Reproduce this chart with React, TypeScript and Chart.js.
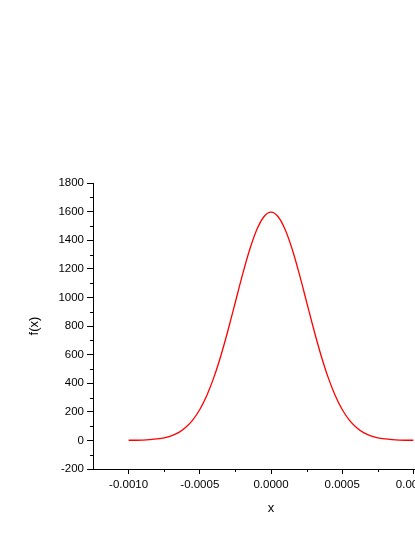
import React, { useEffect, useRef } from "react";
import { Chart, registerables } from "chart.js";

Chart.register(...registerables);

const xValues = [
  -0.001, -0.00095, -0.0009, -0.00085, -0.0008, -0.00075, -0.0007, -0.00065, -0.0006, -0.00055,
  -0.0005, -0.00045, -0.0004, -0.00035, -0.0003, -0.00025, -0.0002, -0.00015, -0.0001, -0.00005,
  0,
  0.00005, 0.0001, 0.00015, 0.0002, 0.00025, 0.0003, 0.00035, 0.0004, 0.00045, 0.0005,
  0.00055, 0.0006, 0.00065, 0.0007, 0.00075, 0.0008, 0.00085, 0.0009, 0.00095, 0.001,
];
const fValues = [
  1, 1, 2, 5, 10, 18, 32, 54, 90, 142,
  216, 316, 444, 599, 777, 968, 1159, 1333, 1473, 1564,
  1596,
  1564, 1473, 1333, 1159, 968, 777, 599, 444, 316, 216,
  142, 90, 54, 32, 18, 10, 5, 2, 1, 1,
];

const xMajorTicks = [-0.001, -0.0005, 0, 0.0005, 0.001];
const xMinorTicks = [-0.00075, -0.00025, 0.00025, 0.00075];
const yMajorTicks = [-200, 0, 200, 400, 600, 800, 1000, 1200, 1400, 1600, 1800];
const yMinorTicks = [-100, 100, 300, 500, 700, 900, 1100, 1300, 1500, 1700];

const FONT = "'Liberation Sans', Arial, Helvetica, sans-serif";

const minorTickPlugin = {
  id: "minorTicks",
  afterDraw(chart: any) {
    const { ctx } = chart;
    const xs = chart.scales.x;
    const ys = chart.scales.y;
    ctx.save();
    ctx.strokeStyle = "#000";
    ctx.lineWidth = 1;
    ctx.beginPath();
    for (const v of yMinorTicks) {
      const py = Math.round(ys.getPixelForValue(v)) + 0.5;
      ctx.moveTo(ys.right - 3, py);
      ctx.lineTo(ys.right, py);
    }
    for (const v of xMinorTicks) {
      const px = Math.round(xs.getPixelForValue(v)) + 0.5;
      ctx.moveTo(px, xs.top);
      ctx.lineTo(px, xs.top + 3);
    }
    ctx.stroke();
    ctx.restore();
  },
};

export default function App() {
  const ref = useRef<HTMLCanvasElement | null>(null);
  useEffect(() => {
    if (!ref.current) return;
    const chart = new Chart(ref.current, {
      type: "line",
      data: {
        datasets: [
          {
            data: xValues.map((x, i) => ({ x, y: fValues[i] })),
            borderColor: "#ff0000",
            borderWidth: 1.3,
            pointRadius: 0,
            tension: 0.4,
            cubicInterpolationMode: "monotone",
            fill: false,
          },
        ],
      },
      options: {
        responsive: false,
        animation: false,
        layout: { padding: { top: 183, right: 4, bottom: 17, left: 23 } },
        plugins: { legend: { display: false }, tooltip: { enabled: false } },
        scales: {
          x: {
            type: "linear",
            min: -0.00125,
            max: 0.00125,
            afterBuildTicks: (s: any) => {
              s.ticks = xMajorTicks.map((v) => ({ value: v }));
            },
            afterFit: (s: any) => {
              s.height = 51;
            },
            border: { display: true, color: "#000", width: 1 },
            grid: { display: true, drawOnChartArea: false, drawTicks: true, tickLength: 5, color: "#000" },
            ticks: {
              color: "#000",
              font: { family: FONT, size: 11.5 },
              maxRotation: 0,
              autoSkip: false,
              padding: 4,
              callback: (v: any) => Number(v).toFixed(4),
            },
            title: { display: true, text: "x", color: "#000", font: { family: FONT, size: 13 } },
          },
          y: {
            type: "linear",
            min: -200,
            max: 1800,
            afterBuildTicks: (s: any) => {
              s.ticks = yMajorTicks.map((v) => ({ value: v }));
            },
            afterFit: (s: any) => {
              s.width = 70;
            },
            border: { display: true, color: "#000", width: 1 },
            grid: { display: true, drawOnChartArea: false, drawTicks: true, tickLength: 6, color: "#000" },
            ticks: {
              color: "#000",
              font: { family: FONT, size: 11.5 },
              padding: 3,
              callback: (v: any) => String(v),
            },
            title: { display: true, text: "f(x)", color: "#000", font: { family: FONT, size: 13 } },
          },
        },
      },
      plugins: [minorTickPlugin],
    });
    return () => chart.destroy();
  }, []);

  return (
    <div
      style={{
        position: "fixed",
        left: 0,
        top: 0,
        width: 415,
        height: 537,
        overflow: "hidden",
        background: "#fff",
      }}
    >
      <canvas ref={ref} width={453} height={537} style={{ display: "block" }} />
    </div>
  );
}
